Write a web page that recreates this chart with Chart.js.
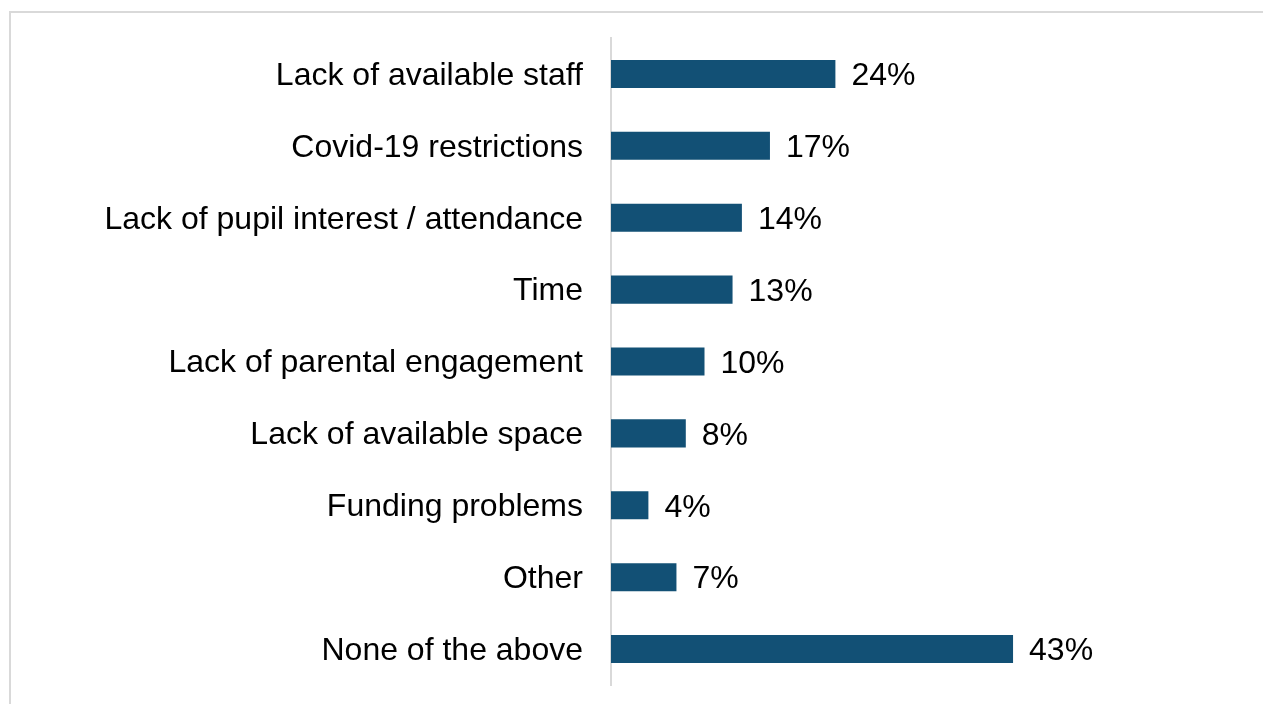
<!DOCTYPE html>
<html>
<head>
<meta charset="utf-8">
<script src="https://cdn.jsdelivr.net/npm/chart.js@4/dist/chart.umd.min.js"></script>
<style>
  html, body { margin: 0; padding: 0; background: #fff; overflow: hidden; }
  #frame {
    position: absolute; left: 9px; top: 11px;
    width: 1320px; height: 760px;
    border: 2px solid #d9d9d9;
  }
  #wrap { position: absolute; left: 0; top: 0; width: 1263px; height: 704px; }
</style>
</head>
<body>
<div id="frame"></div>
<div id="wrap"><canvas id="barChart"></canvas></div>
<script>
// Reasons given
const categories = [
  "Lack of available staff",
  "Covid-19 restrictions",
  "Lack of pupil interest / attendance",
  "Time",
  "Lack of parental engagement",
  "Lack of available space",
  "Funding problems",
  "Other",
  "None of the above"
];
const shares = [24, 17, 14, 13, 10, 8, 4, 7, 43];

const FONT = "'Liberation Sans', Arial, sans-serif";
const FONT_SIZE = 32;
const BAR_COLOR = "#125075";

// value labels at the end of each bar
const valueLabels = {
  id: "valueLabels",
  afterDatasetsDraw(chart) {
    const ctx = chart.ctx;
    const meta = chart.getDatasetMeta(0);
    ctx.save();
    ctx.font = FONT_SIZE + "px " + FONT;
    ctx.fillStyle = "#000";
    ctx.textAlign = "left";
    ctx.textBaseline = "middle";
    meta.data.forEach((bar, i) => {
      ctx.fillText(shares[i] + "%", bar.x + 16, bar.y + 2.5);
    });
    ctx.restore();
  }
};

new Chart(document.getElementById("barChart"), {
  type: "bar",
  data: {
    labels: categories,
    datasets: [{
      data: shares,
      backgroundColor: BAR_COLOR,
      categoryPercentage: 1,
      barPercentage: 0.39
    }]
  },
  options: {
    indexAxis: "y",
    responsive: true,
    maintainAspectRatio: false,
    animation: false,
    layout: { padding: { top: 38, bottom: 19, left: 0, right: 184.5 } },
    plugins: {
      legend: { display: false },
      tooltip: { enabled: false }
    },
    scales: {
      x: {
        display: false,
        min: 0,
        max: 50
      },
      y: {
        grid: { display: false, drawTicks: false },
        border: { display: true, color: "#d9d9d9", width: 2 },
        ticks: {
          color: "#000",
          padding: 28,
          labelOffset: 2,
          font: { family: FONT, size: FONT_SIZE }
        },
        afterFit(scale) {
          // fixed label column, no extra vertical inset from tick padding
          scale.width = 611;
          scale.paddingTop = 0;
          scale.paddingBottom = 0;
        }
      }
    }
  },
  plugins: [valueLabels]
});
</script>
</body>
</html>
